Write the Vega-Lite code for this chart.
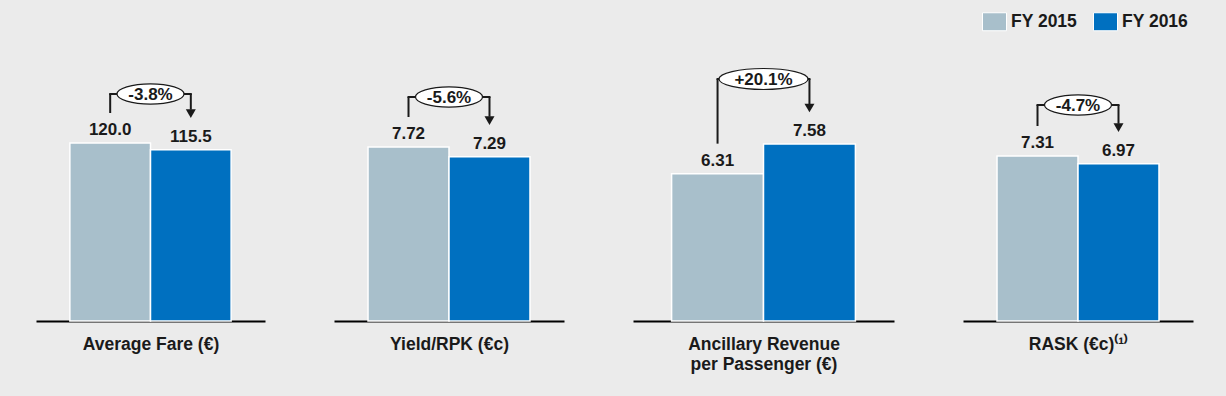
{
  "$schema": "https://vega.github.io/schema/vega-lite/v6.json",
  "background": "#ebebeb",
  "padding": {"left": 36, "top": 8, "right": 33, "bottom": 24},
  "spacing": 69,
  "datasets": {
    "bars": [
      {"metric": "Average Fare (€)", "year": "FY 2015", "value": 120.0},
      {"metric": "Average Fare (€)", "year": "FY 2016", "value": 115.5, "change": "-3.8%"},
      {"metric": "Yield/RPK (€c)", "year": "FY 2015", "value": 7.72},
      {"metric": "Yield/RPK (€c)", "year": "FY 2016", "value": 7.29, "change": "-5.6%"},
      {"metric": "Ancillary Revenue per Passenger (€)", "year": "FY 2015", "value": 6.31},
      {"metric": "Ancillary Revenue per Passenger (€)", "year": "FY 2016", "value": 7.58, "change": "+20.1%"},
      {"metric": "RASK (€c)", "year": "FY 2015", "value": 7.31},
      {"metric": "RASK (€c)", "year": "FY 2016", "value": 6.97, "change": "-4.7%"}
    ]
  },
  "data": {"name": "bars"},
  "config": {
    "font": "Liberation Sans",
    "view": {"stroke": null},
    "axisX": {"labels": false, "ticks": false, "grid": false, "domainColor": "#000000", "domainWidth": 2, "titleFontSize": 17.5, "titleFontWeight": "bold", "titleColor": "#1a1a1a", "titlePadding": 14, "titleLineHeight": 20, "titleFont": "Liberation Sans"},
    "legend": {"orient": "none", "legendX": 946, "legendY": 1, "direction": "horizontal", "title": null, "symbolType": "M-1,-0.75H1V0.75H-1Z", "symbolSize": 576, "symbolStrokeColor": "#ffffff", "symbolStrokeWidth": 1, "symbolOpacity": 1, "labelFontSize": 17.5, "labelFontWeight": "bold", "labelColor": "#1a1a1a", "labelFont": "Liberation Sans", "labelOffset": 4, "columnPadding": 13}
  },
  "hconcat": [
    {
      "width": 229, "height": 313,
      "transform": [{"filter": "datum.metric === 'Average Fare (€)'"}, {"joinaggregate": [{"op": "max", "field": "value", "as": "top"}]}],
      "encoding": {
        "x": {"field": "year", "type": "nominal", "sort": ["FY 2015", "FY 2016"], "title": "Average Fare (€)", "scale": {"paddingInner": 0, "paddingOuter": 0.42}},
        "y": {"field": "value", "type": "quantitative", "scale": {"domain": [0, 211], "nice": false, "zero": true}, "axis": null}
      },
      "layer": [
        {"mark": {"type": "bar", "stroke": "#ffffff", "strokeWidth": 1.5},
         "encoding": {"color": {"field": "year", "type": "nominal", "scale": {"domain": ["FY 2015", "FY 2016"], "range": ["#a8bfcb", "#0070c0"]}}}},
        {"mark": {"type": "text", "dy": -8, "baseline": "alphabetic", "fontSize": 17, "fontWeight": "bold", "color": "#1a1a1a"},
         "encoding": {"text": {"field": "value", "type": "quantitative", "format": ".1f"}}},
        {"transform": [{"filter": "datum.year === 'FY 2015'"}],
         "mark": {"type": "rule", "yOffset": -30, "y2Offset": -49, "color": "#1a1a1a", "strokeWidth": 2},
         "encoding": {"y2": {"field": "top"}}},
        {"transform": [{"filter": "datum.year === 'FY 2016'"}],
         "mark": {"type": "rule", "yOffset": -40, "y2Offset": -49, "color": "#1a1a1a", "strokeWidth": 2},
         "encoding": {"y2": {"field": "top"}}},
        {"mark": {"type": "line", "yOffset": -49, "color": "#1a1a1a", "strokeWidth": 2, "strokeCap": "square"},
         "encoding": {"y": {"field": "top", "type": "quantitative", "axis": null}}},
        {"transform": [{"filter": "datum.year === 'FY 2016'"}],
         "mark": {"type": "point", "shape": "triangle-down", "size": 100, "filled": true, "color": "#1a1a1a", "opacity": 1, "yOffset": -36}},
        {"transform": [{"filter": "datum.year === 'FY 2016'"}],
         "mark": {"type": "point", "shape": "M-1,0A1,0.3,0,1,1,1,0A1,0.3,0,1,1,-1,0Z", "size": 4489, "filled": false, "fill": "#ffffff", "fillOpacity": 1, "stroke": "#1a1a1a", "strokeWidth": 1.2, "opacity": 1, "yOffset": -49},
         "encoding": {"x": {"field": "year", "type": "nominal", "bandPosition": 0, "title": "Average Fare (€)"}, "y": {"field": "top", "type": "quantitative", "axis": null}}},
        {"transform": [{"filter": "datum.year === 'FY 2016'"}],
         "mark": {"type": "text", "yOffset": -48, "baseline": "middle", "fontSize": 17, "fontWeight": "bold", "color": "#1a1a1a"},
         "encoding": {"x": {"field": "year", "type": "nominal", "bandPosition": 0, "title": "Average Fare (€)"}, "y": {"field": "top", "type": "quantitative", "axis": null}, "text": {"field": "change", "type": "nominal"}}}
      ]
    },
    {
      "width": 230, "height": 313,
      "transform": [{"filter": "datum.metric === 'Yield/RPK (€c)'"}, {"joinaggregate": [{"op": "max", "field": "value", "as": "top"}]}],
      "encoding": {
        "x": {"field": "year", "type": "nominal", "sort": ["FY 2015", "FY 2016"], "title": "Yield/RPK (€c)", "scale": {"paddingInner": 0, "paddingOuter": 0.42}},
        "y": {"field": "value", "type": "quantitative", "scale": {"domain": [0, 13.887], "nice": false, "zero": true}, "axis": null}
      },
      "layer": [
        {"mark": {"type": "bar", "stroke": "#ffffff", "strokeWidth": 1.5},
         "encoding": {"color": {"field": "year", "type": "nominal", "scale": {"domain": ["FY 2015", "FY 2016"], "range": ["#a8bfcb", "#0070c0"]}}}},
        {"mark": {"type": "text", "dy": -8, "baseline": "alphabetic", "fontSize": 17, "fontWeight": "bold", "color": "#1a1a1a"},
         "encoding": {"text": {"field": "value", "type": "quantitative", "format": ".2f"}}},
        {"transform": [{"filter": "datum.year === 'FY 2015'"}],
         "mark": {"type": "rule", "yOffset": -30, "y2Offset": -50, "color": "#1a1a1a", "strokeWidth": 2},
         "encoding": {"y2": {"field": "top"}}},
        {"transform": [{"filter": "datum.year === 'FY 2016'"}],
         "mark": {"type": "rule", "yOffset": -40, "y2Offset": -50, "color": "#1a1a1a", "strokeWidth": 2},
         "encoding": {"y2": {"field": "top"}}},
        {"mark": {"type": "line", "yOffset": -50, "color": "#1a1a1a", "strokeWidth": 2, "strokeCap": "square"},
         "encoding": {"y": {"field": "top", "type": "quantitative", "axis": null}}},
        {"transform": [{"filter": "datum.year === 'FY 2016'"}],
         "mark": {"type": "point", "shape": "triangle-down", "size": 100, "filled": true, "color": "#1a1a1a", "opacity": 1, "yOffset": -36}},
        {"transform": [{"filter": "datum.year === 'FY 2016'"}],
         "mark": {"type": "point", "shape": "M-1,0A1,0.3,0,1,1,1,0A1,0.3,0,1,1,-1,0Z", "size": 4489, "filled": false, "fill": "#ffffff", "fillOpacity": 1, "stroke": "#1a1a1a", "strokeWidth": 1.2, "opacity": 1, "yOffset": -50},
         "encoding": {"x": {"field": "year", "type": "nominal", "bandPosition": 0, "title": "Yield/RPK (€c)"}, "y": {"field": "top", "type": "quantitative", "axis": null}}},
        {"transform": [{"filter": "datum.year === 'FY 2016'"}],
         "mark": {"type": "text", "yOffset": -49, "baseline": "middle", "fontSize": 17, "fontWeight": "bold", "color": "#1a1a1a"},
         "encoding": {"x": {"field": "year", "type": "nominal", "bandPosition": 0, "title": "Yield/RPK (€c)"}, "y": {"field": "top", "type": "quantitative", "axis": null}, "text": {"field": "change", "type": "nominal"}}}
      ]
    },
    {
      "width": 261, "height": 313,
      "transform": [{"filter": "datum.metric === 'Ancillary Revenue per Passenger (€)'"}, {"joinaggregate": [{"op": "max", "field": "value", "as": "top"}]}],
      "encoding": {
        "x": {"field": "year", "type": "nominal", "sort": ["FY 2015", "FY 2016"], "title": ["Ancillary Revenue", "per Passenger (€)"], "scale": {"paddingInner": 0, "paddingOuter": 0.42}},
        "y": {"field": "value", "type": "quantitative", "scale": {"domain": [0, 13.404], "nice": false, "zero": true}, "axis": null}
      },
      "layer": [
        {"mark": {"type": "bar", "stroke": "#ffffff", "strokeWidth": 1.5},
         "encoding": {"color": {"field": "year", "type": "nominal", "scale": {"domain": ["FY 2015", "FY 2016"], "range": ["#a8bfcb", "#0070c0"]}}}},
        {"mark": {"type": "text", "dy": -8, "baseline": "alphabetic", "fontSize": 17, "fontWeight": "bold", "color": "#1a1a1a"},
         "encoding": {"text": {"field": "value", "type": "quantitative", "format": ".2f"}}},
        {"transform": [{"filter": "datum.year === 'FY 2015'"}],
         "mark": {"type": "rule", "yOffset": -30, "y2Offset": -65, "color": "#1a1a1a", "strokeWidth": 2},
         "encoding": {"y2": {"field": "top"}}},
        {"transform": [{"filter": "datum.year === 'FY 2016'"}],
         "mark": {"type": "rule", "yOffset": -40, "y2Offset": -65, "color": "#1a1a1a", "strokeWidth": 2},
         "encoding": {"y2": {"field": "top"}}},
        {"mark": {"type": "line", "yOffset": -65, "color": "#1a1a1a", "strokeWidth": 2, "strokeCap": "square"},
         "encoding": {"y": {"field": "top", "type": "quantitative", "axis": null}}},
        {"transform": [{"filter": "datum.year === 'FY 2016'"}],
         "mark": {"type": "point", "shape": "triangle-down", "size": 100, "filled": true, "color": "#1a1a1a", "opacity": 1, "yOffset": -36}},
        {"transform": [{"filter": "datum.year === 'FY 2016'"}],
         "mark": {"type": "point", "shape": "M-1,0A1,0.236,0,1,1,1,0A1,0.236,0,1,1,-1,0Z", "size": 7921, "filled": false, "fill": "#ffffff", "fillOpacity": 1, "stroke": "#1a1a1a", "strokeWidth": 1.2, "opacity": 1, "yOffset": -65},
         "encoding": {"x": {"field": "year", "type": "nominal", "bandPosition": 0, "title": ["Ancillary Revenue", "per Passenger (€)"]}, "y": {"field": "top", "type": "quantitative", "axis": null}}},
        {"transform": [{"filter": "datum.year === 'FY 2016'"}],
         "mark": {"type": "text", "yOffset": -64, "baseline": "middle", "fontSize": 17, "fontWeight": "bold", "color": "#1a1a1a"},
         "encoding": {"x": {"field": "year", "type": "nominal", "bandPosition": 0, "title": ["Ancillary Revenue", "per Passenger (€)"]}, "y": {"field": "top", "type": "quantitative", "axis": null}, "text": {"field": "change", "type": "nominal"}}}
      ]
    },
    {
      "width": 230, "height": 313,
      "transform": [{"filter": "datum.metric === 'RASK (€c)'"}, {"joinaggregate": [{"op": "max", "field": "value", "as": "top"}]}],
      "encoding": {
        "x": {"field": "year", "type": "nominal", "sort": ["FY 2015", "FY 2016"], "title": "RASK (€c)⁽¹⁾", "scale": {"paddingInner": 0, "paddingOuter": 0.42}},
        "y": {"field": "value", "type": "quantitative", "scale": {"domain": [0, 13.867], "nice": false, "zero": true}, "axis": null}
      },
      "layer": [
        {"mark": {"type": "bar", "stroke": "#ffffff", "strokeWidth": 1.5},
         "encoding": {"color": {"field": "year", "type": "nominal", "scale": {"domain": ["FY 2015", "FY 2016"], "range": ["#a8bfcb", "#0070c0"]}}}},
        {"mark": {"type": "text", "dy": -8, "baseline": "alphabetic", "fontSize": 17, "fontWeight": "bold", "color": "#1a1a1a"},
         "encoding": {"text": {"field": "value", "type": "quantitative", "format": ".2f"}}},
        {"transform": [{"filter": "datum.year === 'FY 2015'"}],
         "mark": {"type": "rule", "yOffset": -30, "y2Offset": -51, "color": "#1a1a1a", "strokeWidth": 2},
         "encoding": {"y2": {"field": "top"}}},
        {"transform": [{"filter": "datum.year === 'FY 2016'"}],
         "mark": {"type": "rule", "yOffset": -40, "y2Offset": -51, "color": "#1a1a1a", "strokeWidth": 2},
         "encoding": {"y2": {"field": "top"}}},
        {"mark": {"type": "line", "yOffset": -51, "color": "#1a1a1a", "strokeWidth": 2, "strokeCap": "square"},
         "encoding": {"y": {"field": "top", "type": "quantitative", "axis": null}}},
        {"transform": [{"filter": "datum.year === 'FY 2016'"}],
         "mark": {"type": "point", "shape": "triangle-down", "size": 100, "filled": true, "color": "#1a1a1a", "opacity": 1, "yOffset": -36}},
        {"transform": [{"filter": "datum.year === 'FY 2016'"}],
         "mark": {"type": "point", "shape": "M-1,0A1,0.3,0,1,1,1,0A1,0.3,0,1,1,-1,0Z", "size": 4489, "filled": false, "fill": "#ffffff", "fillOpacity": 1, "stroke": "#1a1a1a", "strokeWidth": 1.2, "opacity": 1, "yOffset": -51},
         "encoding": {"x": {"field": "year", "type": "nominal", "bandPosition": 0, "title": "RASK (€c)⁽¹⁾"}, "y": {"field": "top", "type": "quantitative", "axis": null}}},
        {"transform": [{"filter": "datum.year === 'FY 2016'"}],
         "mark": {"type": "text", "yOffset": -50, "baseline": "middle", "fontSize": 17, "fontWeight": "bold", "color": "#1a1a1a"},
         "encoding": {"x": {"field": "year", "type": "nominal", "bandPosition": 0, "title": "RASK (€c)⁽¹⁾"}, "y": {"field": "top", "type": "quantitative", "axis": null}, "text": {"field": "change", "type": "nominal"}}}
      ]
    }
  ]
}
